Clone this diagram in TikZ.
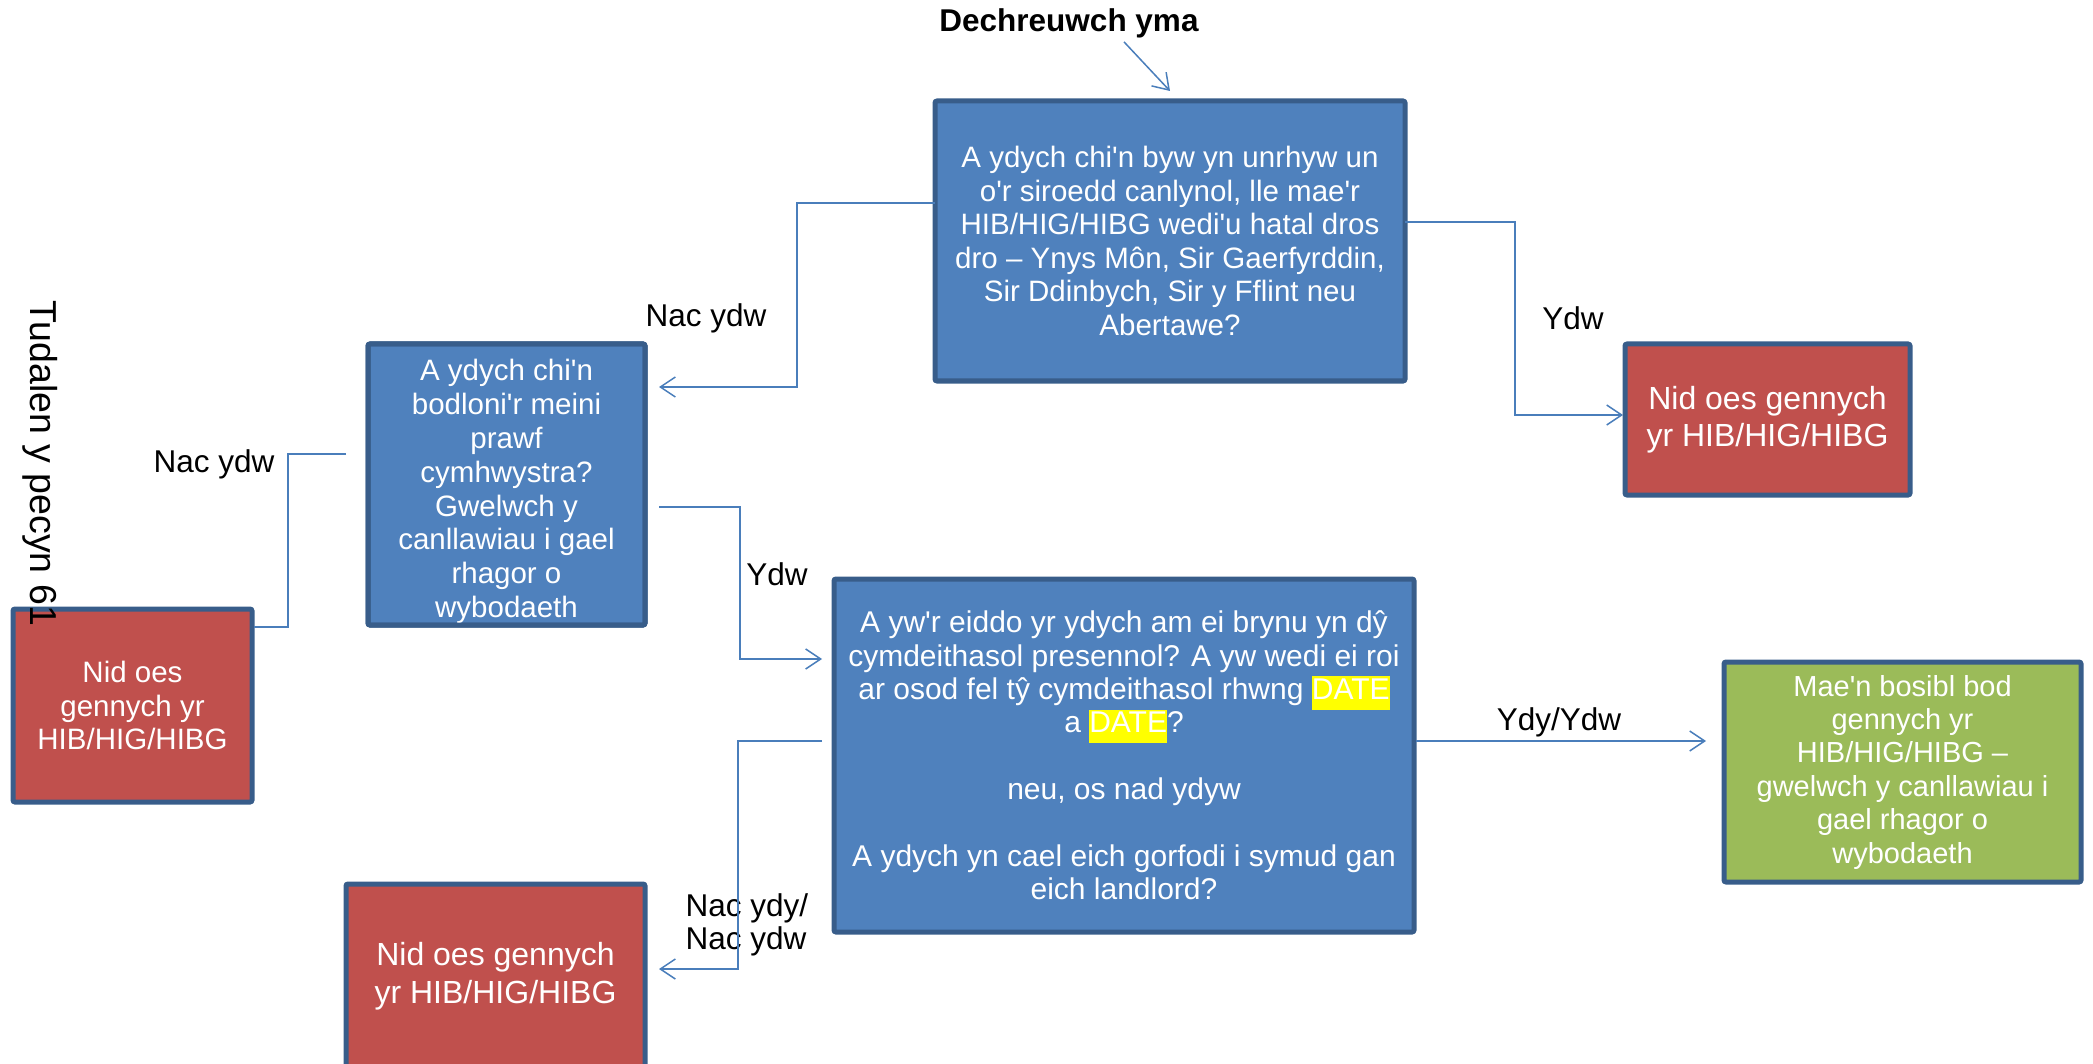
\documentclass[tikz,border=0pt]{standalone}
\usepackage{fontspec}
\setmainfont{Liberation Sans}[Ligatures=TeXOff]
\usetikzlibrary{arrows.meta}
\definecolor{boxblue}{HTML}{4F81BD}
\definecolor{edgeblue}{HTML}{385D8A}
\definecolor{linkblue}{HTML}{4A7EBB}
\definecolor{nored}{HTML}{C0504D}
\definecolor{yesgreen}{HTML}{9BBB59}
\definecolor{hlyellow}{HTML}{FFFF00}
\newcommand{\hldate}[1]{{\setlength{\fboxsep}{0pt}\colorbox{hlyellow}{\strut #1}}}
\tikzset{
  qbox/.style={draw=edgeblue,line width=5pt,rounded corners=2pt,fill=boxblue,text=white,align=center,
    inner sep=0pt,outer sep=0pt,font=\fontsize{29.5}{33.6}\selectfont},
  nobox/.style={qbox,fill=nored,font=\fontsize{32}{37.5}\selectfont},
  yesbox/.style={qbox,fill=yesgreen,font=\fontsize{29}{33.4}\selectfont},
  lbl/.style={inner sep=0pt,align=left,font=\fontsize{31.5}{33.5}\selectfont},
  link/.style={draw=linkblue,line width=1.5pt}
}
\begin{document}
\begin{tikzpicture}[x=1pt,y=-1pt,>={Straight Barb[length=15pt,width=20pt]}]
\useasboundingbox (0,0) rectangle (2093,1064);
% question boxes
\node[qbox,minimum width=470,minimum height=280] (q1) at (1170,241)
  {A ydych chi'n byw yn unrhyw un\\o'r siroedd canlynol, lle mae'r\\HIB/HIG/HIBG wedi'u hatal dros\\dro – Ynys Môn, Sir Gaerfyrddin,\\Sir Ddinbych, Sir y Fflint neu\\Abertawe?};
\node[qbox,minimum width=277,minimum height=281] (q2) at (506.5,484.5) {};
\node[qbox,draw=none,fill=none,font=\fontsize{29.5}{33.8}\selectfont] (q2txt) at ([yshift=-7pt]q2.center)
  {A ydych chi'n\\bodloni'r meini\\prawf\\cymhwystra?\\Gwelwch y\\canllawiau i gael\\rhagor o\\wybodaeth};
\draw[edgeblue,line width=5pt,rounded corners=2pt] (q2.south west) rectangle (q2.north east);
\node[qbox,minimum width=580,minimum height=353,font=\fontsize{30}{33.4}\selectfont] (q3) at (1124,755.5)
  {A yw'r eiddo yr ydych am ei brynu yn dŷ\\cymdeithasol presennol? A yw wedi ei roi\\ar osod fel tŷ cymdeithasol rhwng \hldate{DATE}\\a \hldate{DATE}?\\[33.4pt]neu, os nad ydyw\\[33.4pt]A ydych yn cael eich gorfodi i symud gan\\eich landlord?};
% answer boxes
\node[nobox,minimum width=285,minimum height=151] (nrtop) at (1767.5,419.5)
  {Nid oes gennych\\yr HIB/HIG/HIBG};
\node[nobox,minimum width=239,minimum height=193,font=\fontsize{29.5}{33.4}\selectfont] (nleft) at (132.5,705.5)
  {Nid oes\\gennych yr\\HIB/HIG/HIBG};
\node[nobox,minimum width=299,minimum height=184] (nbot) at (495.5,976)
  {Nid oes gennych\\yr HIB/HIG/HIBG};
\node[yesbox,minimum width=357,minimum height=220] (yes) at (1902.5,772)
  {Mae'n bosibl bod\\gennych yr\\HIB/HIG/HIBG –\\gwelwch y canllawiau i\\gael rhagor o\\wybodaeth};
% labels
\node[lbl,font=\bfseries\fontsize{31.5}{33.5}\selectfont] (start) at (1069,23) {Dechreuwch yma};
\node[lbl,rotate=-90,font=\fontsize{37.5}{40}\selectfont] (page) at (40,463) {Tudalen y pecyn 61};
\node[lbl] (l1) at (706,318) {Nac ydw};
\node[lbl] (l2) at (1573,318) {Ydw};
\node[lbl] (l3) at (214,464) {Nac ydw};
\node[lbl] (l4) at (777,574) {Ydw};
\node[lbl] (l5) at (747,925) {Nac ydy/\\Nac ydw};
\node[lbl] (l6) at (1559,722) {Ydy/Ydw};
% connectors
\draw[link,->] ([xshift=55pt,yshift=-4pt]start.south) -- ([yshift=10pt]q1.north);
\draw[link,->] ([yshift=38pt]q1.west) -| (797,387) -- ([xshift=14pt,yshift=97.5pt]q2.east);
\draw[link,->] ([yshift=19pt]q1.east) -| (1515,415) -- ([xshift=-2pt,yshift=4.5pt]nrtop.west);
\draw[link] ([xshift=-22pt,yshift=30.5pt]q2.west) -| (288,627) -- ([xshift=2pt,yshift=78.5pt]nleft.east);
\draw[link,->] ([xshift=14pt,yshift=-22.5pt]q2.east) -| (740,659) -- ([xshift=-12pt,yshift=96.5pt]q3.west);
\draw[link,->] ([xshift=-12pt,yshift=14.5pt]q3.west) -| (738,969) -- ([xshift=14pt,yshift=7pt]nbot.east);
\draw[link,->] ([xshift=2pt,yshift=14.5pt]q3.east) -- ([xshift=-18pt,yshift=31pt]yes.west);
\end{tikzpicture}
\end{document}
